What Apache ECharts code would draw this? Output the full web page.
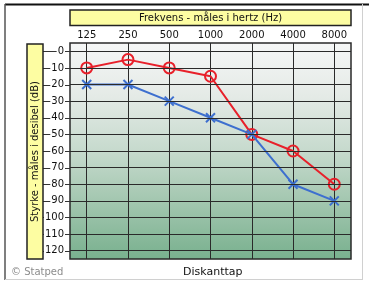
<!DOCTYPE html>
<html><head><meta charset="utf-8">
<script src="https://cdn.jsdelivr.net/npm/echarts@6/dist/echarts.min.js"></script>
<style>html,body{margin:0;padding:0;background:#fff}#c{width:369px;height:281px}</style>
</head><body><div id="c"></div>
<script>
const frequencies = ['125', '250', '500', '1000', '2000', '4000', '8000'];
const redEar = [10, 5, 10, 15, 50, 60, 80];
const blueEar = [20, 20, 30, 40, 50, 80, 90];
const dbTicks = [0, 10, 20, 30, 40, 50, 60, 70, 80, 90, 100, 110, 120];
const xTitle = 'Frekvens - måles i hertz (Hz)';
const yTitle = 'Styrke - måles i desibel (dB)';
const bottomText = 'Diskanttap';
const credit = '© Statped';

const F = 'DejaVu Sans';
const idx = frequencies.map((_, i) => i);
const chart = echarts.init(document.getElementById('c'), null, {renderer: 'canvas'});
const staticGraphics = [
  {type: 'line', shape: {x1: 5, y1: 4.5, x2: 369, y2: 4.5}, style: {stroke: '#111', lineWidth: 2}, z: 10},
  {type: 'line', shape: {x1: 5, y1: 4, x2: 5, y2: 280}, style: {stroke: '#555', lineWidth: 1.5}, z: 10},
  {type: 'line', shape: {x1: 362.5, y1: 4, x2: 362.5, y2: 280}, style: {stroke: '#d0d0d0', lineWidth: 1}, z: 10},
  {type: 'line', shape: {x1: 5, y1: 279.5, x2: 362.5, y2: 279.5}, style: {stroke: '#d0d0d0', lineWidth: 1}, z: 10},
  {type: 'rect', shape: {x: 70, y: 10, width: 281, height: 15.5}, style: {fill: '#fdfda2', stroke: '#222', lineWidth: 1.5}, z: 10},
  {type: 'text', x: 210.5, y: 18, style: {text: xTitle, font: '10px "DejaVu Sans"', fill: '#111', align: 'center', verticalAlign: 'middle'}, z: 11},
  {type: 'rect', shape: {x: 27, y: 44, width: 16, height: 215}, style: {fill: '#fdfda2', stroke: '#222', lineWidth: 1.5}, z: 10},
  {type: 'text', x: 35.5, y: 151.5, rotation: Math.PI / 2, style: {text: yTitle, font: '10px "DejaVu Sans"', fill: '#111', align: 'center', verticalAlign: 'middle'}, z: 11},
  {type: 'text', x: 11, y: 272, style: {text: credit, font: '10px "DejaVu Sans"', fill: '#8c8c8c', align: 'left', verticalAlign: 'middle'}, z: 11},
  {type: 'text', x: 183, y: 272, style: {text: bottomText, font: '11px "DejaVu Sans"', fill: '#111', align: 'left', verticalAlign: 'middle'}, z: 11}
];
chart.setOption({
  animation: false,
  textStyle: {fontFamily: F},
  grid: {
    left: 70, right: 18, top: 43, bottom: 22, show: true,
    borderColor: '#2a2a2a', borderWidth: 1.5,
    backgroundColor: {type: 'linear', x: 0, y: 0, x2: 0, y2: 1, colorStops: [
      {offset: 0, color: '#f6f7f7'},
      {offset: 0.25, color: '#e4eae6'},
      {offset: 0.5, color: '#c6dacd'},
      {offset: 0.75, color: '#a0c5ad'},
      {offset: 1, color: '#78b08e'}]}
  },
  xAxis: {
    type: 'value', position: 'top', min: -0.405, max: 6.405,
    axisLine: {show: false},
    axisTick: {show: false, customValues: idx},
    axisLabel: {customValues: idx, formatter: v => frequencies[Math.round(v)],
      fontFamily: F, fontSize: 10, color: '#111', margin: 3},
    splitLine: {show: true, lineStyle: {color: '#2a2a2a', width: 1}}
  },
  yAxis: {
    type: 'value', inverse: true, min: -5, max: 125,
    axisLine: {show: false, onZero: false},
    axisTick: {show: false, customValues: dbTicks},
    axisLabel: {customValues: dbTicks, fontFamily: F, fontSize: 10, color: '#111', margin: 5,
      backgroundColor: '#fff', padding: [0, 1, 0, 1]},
    splitLine: {show: true, lineStyle: {color: '#2a2a2a', width: 1}},
    z: 5
  },
  series: [
    {type: 'line', data: redEar.map((v, i) => [i, v]),
     symbol: 'circle', symbolSize: 11,
     itemStyle: {color: 'rgba(0,0,0,0)', borderColor: '#e8202a', borderWidth: 2},
     lineStyle: {color: '#e8202a', width: 2}, z: 3},
    {type: 'line', data: blueEar.map((v, i) => [i, v]),
     symbol: 'path://M0,0L10,10M10,0L0,10', symbolSize: 9,
     itemStyle: {color: 'none', borderColor: '#3d6fcf', borderWidth: 2},
     lineStyle: {color: '#3d6fcf', width: 2}, z: 4}
  ],
  graphic: staticGraphics
});
// tick marks between the y-title box and the plot, positioned by the y axis scale
const tickLines = dbTicks.map(v => {
  const y = Math.round(chart.convertToPixel({yAxisIndex: 0}, v)) + 0.5;
  return {type: 'line', shape: {x1: 43, y1: y, x2: 70, y2: y}, style: {stroke: '#333', lineWidth: 1}, z: 0, zlevel: 0};
});
chart.setOption({graphic: staticGraphics.concat(tickLines)});
</script></body></html>
